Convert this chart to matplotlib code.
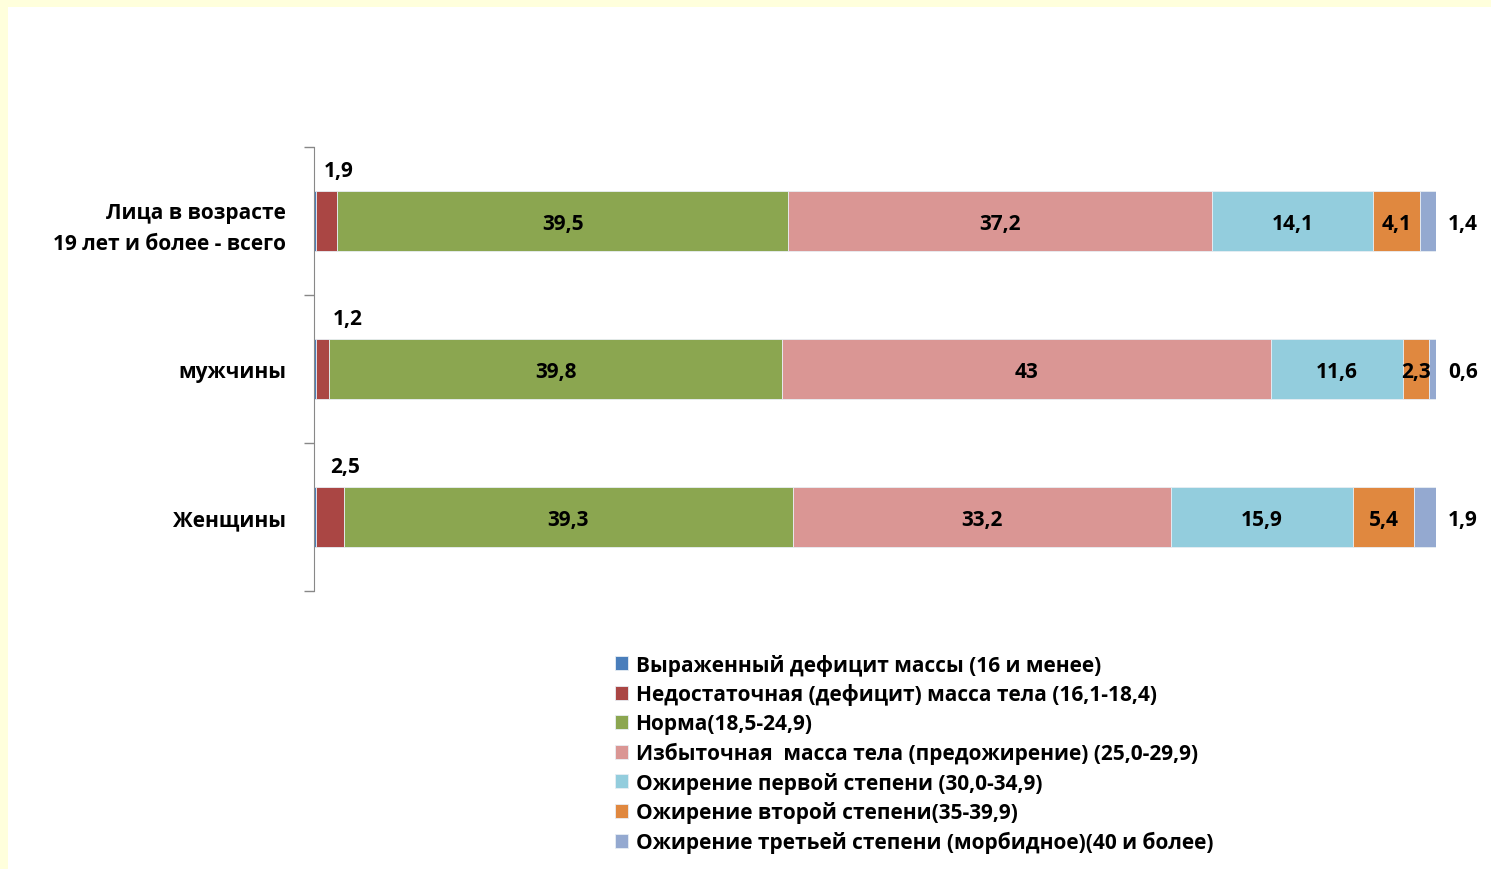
import matplotlib.pyplot as plt
from matplotlib.patches import Rectangle
import numpy as np

plt.rcParams['font.family'] = ['Open Sans', 'DejaVu Sans']

categories = ['Лица в возрасте\n19 лет и более - всего', 'мужчины', 'Женщины']
series = ['Выраженный дефицит массы (16 и менее)',
          'Недостаточная (дефицит) масса тела (16,1-18,4)',
          'Норма(18,5-24,9)',
          'Избыточная  масса тела (предожирение) (25,0-29,9)',
          'Ожирение первой степени (30,0-34,9)',
          'Ожирение второй степени(35-39,9)',
          'Ожирение третьей степени (морбидное)(40 и более)']
# rows: categories, columns: series
values = np.array([
    [0.15, 1.9, 39.5, 37.2, 14.1, 4.1, 1.4],
    [0.15, 1.2, 39.8, 43.0, 11.6, 2.3, 0.6],
    [0.15, 2.5, 39.3, 33.2, 15.9, 5.4, 1.9],
])
labels = [
    ['', '1,9', '39,5', '37,2', '14,1', '4,1', '1,4'],
    ['', '1,2', '39,8', '43', '11,6', '2,3', '0,6'],
    ['', '2,5', '39,3', '33,2', '15,9', '5,4', '1,9'],
]
colors = ['#4A7EBB', '#AA4644', '#8BA650', '#DA9694', '#93CDDD', '#E0883F', '#94A9D0']

fs = 15
fig = plt.figure(figsize=(14.91, 8.70), dpi=100)
fig.patch.set_facecolor('#FFFFDC')
fig.patches.append(Rectangle((8 / 1491, 0), 1, 1 - 8 / 870, transform=fig.transFigure,
                             facecolor='white', edgecolor='none', zorder=-10))

ax = fig.add_axes([314 / 1491, 1 - 592 / 870, (1436 - 314) / 1491, (592 - 148) / 870])
ax.set_facecolor('none')

shares = values / values.sum(axis=1, keepdims=True) * 100
y = np.arange(len(categories))
left = np.zeros(len(categories))
for j, name in enumerate(series):
    ax.barh(y, shares[:, j], left=left, height=0.4, color=colors[j],
            edgecolor='#E8EEF4', linewidth=0.6, label=name)
    for i in range(len(categories)):
        txt = labels[i][j]
        if not txt:
            continue
        if j == 1:
            ax.text(left[i] + shares[i, j] + [0.1, 1.6, 0.1][i], y[i] - 0.34, txt,
                    ha='center', va='center', fontsize=fs, fontweight='bold')
        elif j == 6:
            ax.text(102.4, y[i] + 0.02, txt, ha='center', va='center',
                    fontsize=fs, fontweight='bold')
        else:
            ax.text(left[i] + shares[i, j] / 2, y[i] + 0.02, txt, ha='center', va='center',
                    fontsize=fs, fontweight='bold')
    left += shares[:, j]

ax.set_xlim(0, 100)
ax.set_ylim(2.5, -0.5)
ax.set_yticks([-0.5, 0.5, 1.5, 2.5])
ax.set_yticklabels([])
ax.set_yticks(y, minor=True)
ax.set_yticklabels(categories, minor=True, fontsize=fs, fontweight='bold',
                   linespacing=1.6)
ax.tick_params(axis='y', which='major', direction='out', length=7, color='#888888', width=1)
ax.tick_params(axis='y', which='minor', length=0, pad=20)
ax.set_xticks([])
for s in ['top', 'right', 'bottom']:
    ax.spines[s].set_visible(False)
ax.spines['left'].set_color('#888888')

ax.legend(loc='upper left', bbox_to_anchor=(596 / 1491, 1 - 636 / 870),
          bbox_transform=fig.transFigure, frameon=False,
          prop={'size': fs, 'weight': 'bold'},
          handlelength=0.65, handleheight=0.65, handletextpad=0.35, labelspacing=0.37)

fig.savefig('out.png', dpi=100)
